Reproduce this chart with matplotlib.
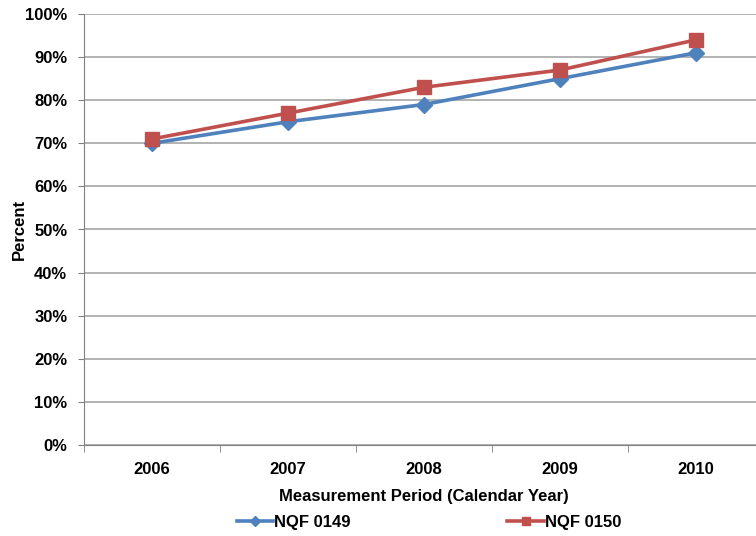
import numpy as np
import matplotlib
matplotlib.use('Agg')
import matplotlib.pyplot as plt
from matplotlib.ticker import PercentFormatter

# data
years = ['2006', '2007', '2008', '2009', '2010']
nqf_0149 = [70, 75, 79, 85, 91]
nqf_0150 = [71, 77, 83, 87, 94]

plt.rcParams['font.family'] = ['Liberation Sans Narrow', 'Liberation Sans', 'DejaVu Sans']
plt.rcParams['font.weight'] = 'bold'

fig = plt.figure(figsize=(7.56, 5.36), dpi=100)
# plot area runs a little past the right edge, as in the reference
ax = fig.add_axes([84/756, 91/536, 680/756, 431/536])

x = np.arange(len(years))
ax.plot(x, nqf_0149, color='#4F81BD', lw=2.6, marker='D', ms=8,
        label='NQF 0149', zorder=3)
ax.plot(x, nqf_0150, color='#C0504D', lw=2.6, marker='s', ms=10,
        label='NQF 0150', zorder=3)

ax.set_xlim(-0.5, 4.5)
ax.set_ylim(0, 100)
ax.set_yticks(range(0, 101, 10))
ax.yaxis.set_major_formatter(PercentFormatter(decimals=0))
ax.set_xticks(x)
ax.set_xticklabels(years)
ax.set_xticks(np.arange(-0.5, 5, 1), minor=True)
ax.tick_params(axis='x', which='major', length=0, pad=12, labelsize=12)
ax.tick_params(axis='x', which='minor', length=5, color='#808080', direction='out')
ax.tick_params(axis='y', length=4, color='#808080', pad=8, labelsize=12)

ax.grid(axis='y', color='#A6A6A6', lw=1.2)
ax.set_axisbelow(True)
for s in ['top', 'right']:
    ax.spines[s].set_visible(False)
ax.spines['left'].set_color('#808080')
ax.spines['bottom'].set_color('#808080')

ax.set_xlabel('Measurement Period (Calendar Year)', fontsize=12,
              fontweight='bold', labelpad=9)
ax.set_ylabel('Percent', fontsize=12, fontweight='bold', labelpad=-1)

fig.legend(loc='center', bbox_to_anchor=(429/756, 14/536), ncol=2,
           frameon=False, fontsize=12, handlelength=2.2, handletextpad=0.05,
           columnspacing=9.4, markerscale=0.6)

fig.savefig('out.png', dpi=100)
